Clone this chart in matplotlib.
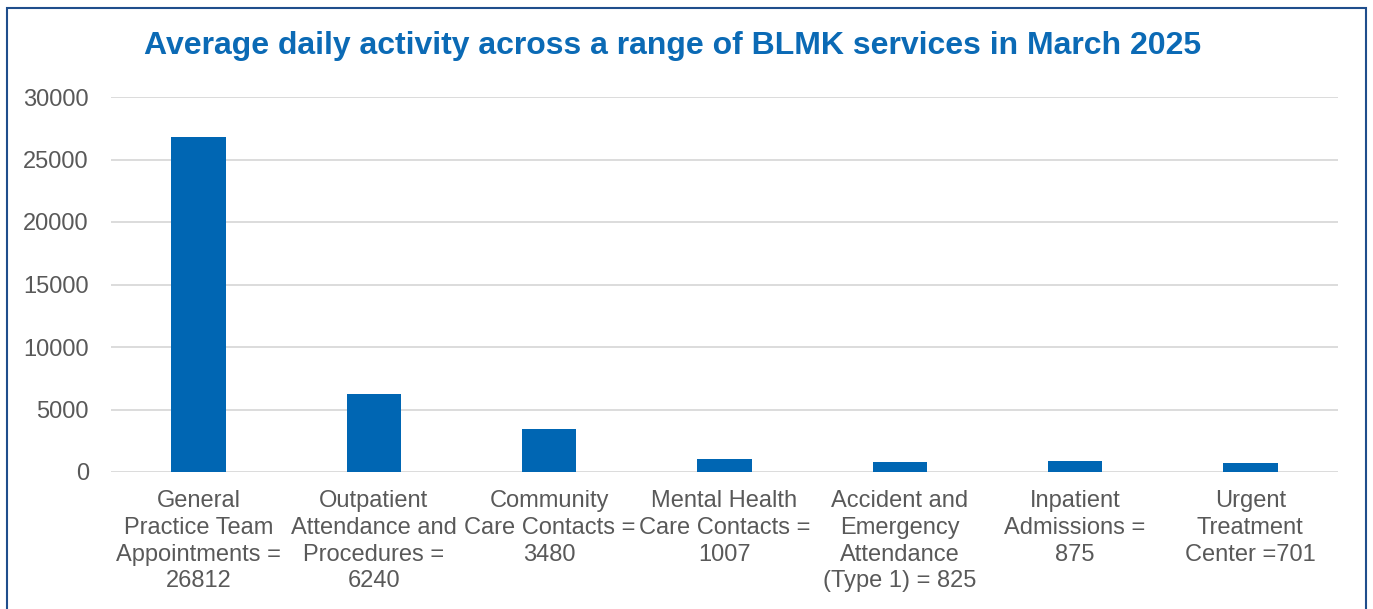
import matplotlib
matplotlib.use("Agg")
import matplotlib.pyplot as plt
from matplotlib.patches import Rectangle

categories = [
    "General\nPractice Team\nAppointments =\n26812",
    "Outpatient\nAttendance and\nProcedures =\n6240",
    "Community\nCare Contacts =\n3480",
    "Mental Health\nCare Contacts =\n1007",
    "Accident and\nEmergency\nAttendance\n(Type 1) = 825",
    "Inpatient\nAdmissions =\n875",
    "Urgent\nTreatment\nCenter =701",
]
values = [26812, 6240, 3480, 1007, 825, 875, 701]
yticks = [0, 5000, 10000, 15000, 20000, 25000, 30000]
title = "Average daily activity across a range of BLMK services in March 2025"

plt.rcParams['font.family'] = ['Liberation Sans', 'DejaVu Sans']

W, H = 1373, 609
fig = plt.figure(figsize=(W / 100, H / 100), dpi=100)
ax = fig.add_axes([111 / W, 1 - 472 / H, (1338 - 111) / W, (472 - 97) / H])

x = range(len(categories))
ax.bar(x, values, width=0.31, color="#0066B3", zorder=3)
ax.set_xlim(-0.5, len(categories) - 0.5)
ax.set_ylim(0, 30000)
ax.set_yticks(yticks)
ax.set_yticklabels([str(v) for v in yticks])
ax.set_xticks(list(x))
ax.set_xticklabels(categories, linespacing=1.28)
ax.tick_params(axis='both', length=0, labelsize=17, labelcolor="#595959")
ax.tick_params(axis='y', pad=16)
ax.tick_params(axis='x', pad=13)
ax.grid(axis='y', color="#D9D9D9", linewidth=1.3, zorder=0)
for s in ax.spines.values():
    s.set_visible(False)

fig.text(673 / W, 1 - 46 / H, title, ha='center', va='center',
         fontsize=23, fontweight='bold', color="#0B6AB5")

border = Rectangle((6.5 / W, -0.05), (1366 - 6.5) / W, 1 - 7.5 / H + 0.05,
                   transform=fig.transFigure, fill=False,
                   edgecolor="#1F4E8C", linewidth=1.5, clip_on=False)
fig.patches.append(border)

fig.savefig("out.png", dpi=100)
